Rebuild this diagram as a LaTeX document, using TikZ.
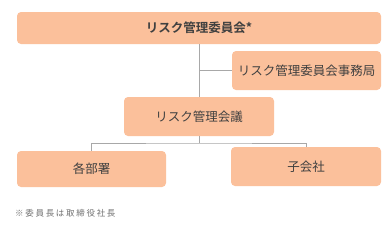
\documentclass[tikz,border=0pt]{standalone}
\usepackage{fontspec}
\newfontfamily\jp[BoldFont={Noto Sans CJK JP Bold}]{Noto Sans CJK JP}
\newfontfamily\jpnote[LetterSpace=20]{Noto Sans CJK JP}
\definecolor{boxfill}{HTML}{FBC09B}
\definecolor{boxtext}{HTML}{404040}
\definecolor{linegray}{HTML}{A8A8A8}
\definecolor{notegray}{HTML}{707070}

\tikzset{
    org box/.style={
      fill=boxfill,
      rounded corners=4pt,
      text=boxtext,
      font=\jp\fontsize{12.5}{14}\selectfont,
      inner sep=0pt
    },
    org line/.style={
      draw=linegray,
      line width=1pt
    },
    org note/.style={
      font=\jpnote\fontsize{8.5}{10}\selectfont,
      text=notegray,
      inner sep=0pt
    }
  }

\begin{document}
\begin{tikzpicture}[x=1pt,y=-1pt]
      \useasboundingbox (0,0) rectangle (391,228);

      % 線
      \coordinate (bunki) at (199,143);

      % 箱
      \node[org box, minimum width=364pt, minimum height=32pt] (iinkai) at (199,28) {\bfseries リスク管理委員会*};
      \node[org box, minimum width=149pt, minimum height=39pt] (jimukyoku) at (306.5,70.5) {リスク管理委員会事務局};
      \node[org box, minimum width=150pt, minimum height=39pt] (kaigi) at (199,116.5) {リスク管理会議};
      \node[org box, minimum width=149pt, minimum height=36pt] (busho) at (91.5,169) {各部署};
      \node[org box, minimum width=150pt, minimum height=39pt] (kogaisha) at (306,166.5) {子会社};

      % 接続
      \draw[org line] (iinkai.south) -- (kaigi.north);
      \draw[org line] (jimukyoku.west) -- (jimukyoku.west -| iinkai.south);
      \draw[org line] (kaigi.south) -- (bunki);
      \draw[org line] (busho.north) |- (bunki) -| (kogaisha.north);

      % 注記
      \node[org note, anchor=west] (chuki) at (15,213) {※委員長は取締役社長};
    \end{tikzpicture}
\end{document}
